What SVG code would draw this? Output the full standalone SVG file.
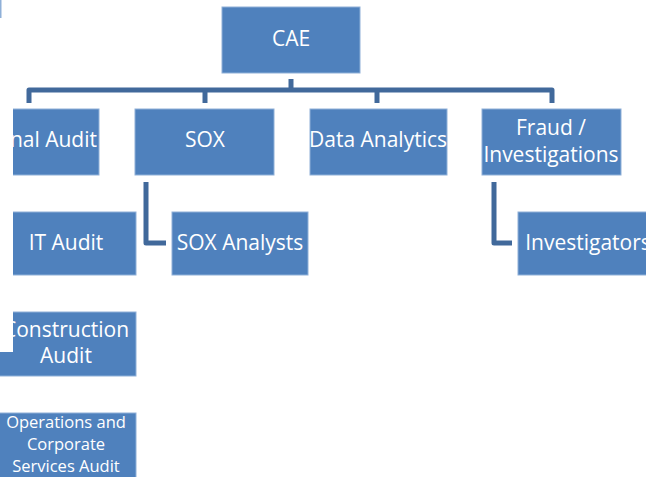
<svg xmlns="http://www.w3.org/2000/svg" width="646" height="477" viewBox="0 0 646 477">
<style>
.box{fill:#4f81bd;stroke:#8fb0d8;stroke-width:1}
.t{font-family:"Open Sans","Liberation Sans",sans-serif;font-size:21px;fill:#ffffff;text-anchor:middle}
.s{font-size:16.5px}
.c{fill:none;stroke:#41699b;stroke-width:5;stroke-linejoin:round}
</style>
<rect width="646" height="477" fill="#ffffff"/>
<g id="connectors">
<path class="c" d="M291 79 V90"/>
<path class="c" d="M29 103 V90 H552 V103"/>
<path class="c" d="M205 90 V103"/>
<path class="c" d="M377 90 V103"/>
<path class="c" d="M146 182 V243 H166"/>
<path class="c" d="M494 182 V243 H512"/>
</g>
<g id="cae"><rect class="box" x="222" y="7" width="138" height="66"/><text class="t" x="291" y="46">CAE</text></g>
<g id="internal-audit"><rect class="box" x="-40" y="109" width="139" height="66"/><text class="t" x="97" y="147" style="text-anchor:end">nal Audit</text></g>
<g id="sox"><rect class="box" x="135" y="109" width="139" height="66"/><text class="t" x="205" y="147">SOX</text></g>
<g id="data-analytics"><rect class="box" x="310" y="109" width="137" height="66"/><text class="t" x="378" y="147">Data Analytics</text></g>
<g id="fraud"><rect class="box" x="482" y="109" width="139" height="66"/><text class="t" x="551" y="135">Fraud /</text><text class="t" x="551" y="162">Investigations</text></g>
<g id="it-audit"><rect class="box" x="-4" y="212" width="140" height="63"/><text class="t" x="66" y="250">IT Audit</text></g>
<g id="sox-analysts"><rect class="box" x="172" y="212" width="136" height="63"/><text class="t" x="240" y="250">SOX Analysts</text></g>
<g id="investigators"><rect class="box" x="518" y="212" width="140" height="63"/><text class="t" x="588" y="250">Investigators</text></g>
<g id="construction-audit"><rect class="box" x="-4" y="312" width="140" height="64"/><text class="t" x="66" y="337">Construction</text><text class="t" x="66" y="363">Audit</text></g>
<g id="operations-audit"><rect class="box" x="-4" y="413" width="140" height="70"/><text class="t s" x="66" y="428">Operations and</text><text class="t s" x="66" y="450">Corporate</text><text class="t s" x="66" y="472">Services Audit</text></g>
<rect x="0" y="18" width="13" height="334" fill="#ffffff"/>
<rect x="0" y="0" width="1.5" height="18" fill="#8fb0d8"/>
</svg>
